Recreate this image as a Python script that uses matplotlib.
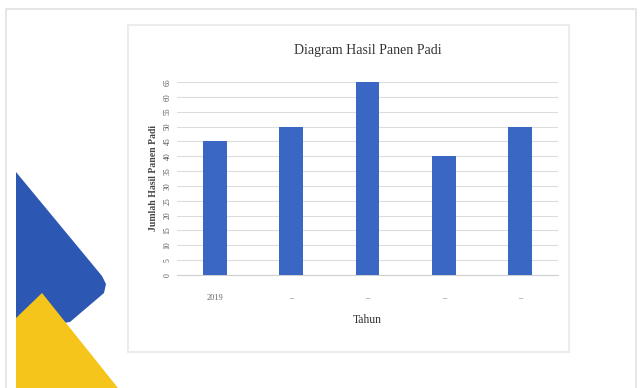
import matplotlib
matplotlib.use("Agg")
import matplotlib.pyplot as plt
from matplotlib.patches import Polygon, Rectangle

# chart data
years = ["2019", "–", "–", "–", "–"]
harvest = [45, 50, 65, 40, 50]
y_ticks = list(range(0, 70, 5))

W, H = 641, 388
fig = plt.figure(figsize=(W / 100, H / 100), dpi=100)
fig.patch.set_facecolor("white")

# background layer in pixel coordinates (slide frame + decoration)
bg = fig.add_axes([0, 0, 1, 1])
bg.set_xlim(0, W)
bg.set_ylim(H, 0)
bg.axis("off")

bg.add_patch(Rectangle((6, 9), 630, 385, facecolor="white", edgecolor="#e2e2e2", lw=1.2))
bg.add_patch(Rectangle((128, 25), 441, 327, facecolor="white", edgecolor="#ececec", lw=1.5))

bg.add_patch(Polygon([(16, 172), (102, 276), (106, 284), (104, 293), (70, 322), (16, 330)],
                     closed=True, facecolor="#2c58b4", edgecolor="none"))
bg.add_patch(Polygon([(16, 318), (42, 293), (118, 388), (16, 388)],
                     closed=True, facecolor="#f6c51c", edgecolor="none"))

# chart
ax = fig.add_axes([177 / W, (H - 275) / H, (558 - 177) / W, (275 - 82) / H])
x = range(len(years))
ax.bar(x, harvest, width=0.31, color="#3b67c4", zorder=3)
ax.set_xlim(-0.5, len(years) - 0.5)
ax.set_ylim(0, 65)
ax.set_yticks(y_ticks)
ax.set_yticklabels([str(v) for v in y_ticks], rotation=90, va="center",
                   fontsize=5.5, family="Liberation Serif", color="#555555")
ax.set_xticks(list(x))
ax.set_xticklabels(years, fontsize=6, family="Liberation Serif", color="#666666")
ax.tick_params(length=0, pad=4)
ax.tick_params(axis="x", pad=14)
ax.grid(axis="y", color="#dcdcdc", lw=0.8, zorder=0)
for s in ["top", "right", "left"]:
    ax.spines[s].set_visible(False)
ax.spines["bottom"].set_color("#d0d0d0")

ax.set_title("Diagram Hasil Panen Padi", family="Liberation Serif", fontsize=10,
             color="#333333", pad=20)
ax.set_xlabel("Tahun", family="Liberation Serif", fontsize=8.5, color="#333333", labelpad=8)
ax.set_ylabel("Jumlah Hasil Panen Padi", family="Liberation Serif", fontsize=7,
              fontweight="bold", color="#444444", labelpad=4)

fig.savefig("out.png", dpi=100, facecolor="white")
